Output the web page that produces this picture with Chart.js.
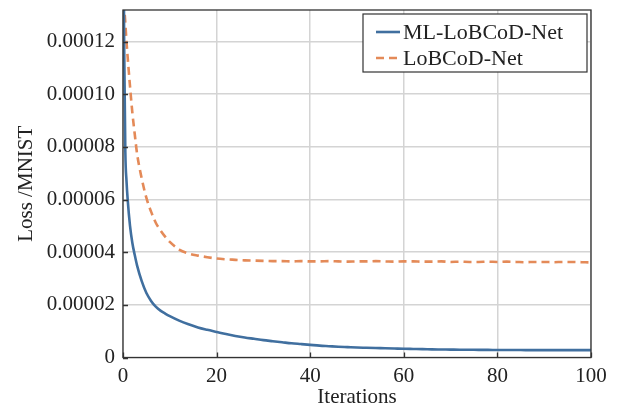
<!DOCTYPE html>
<html>
<head>
<meta charset="utf-8">
<script src="https://cdn.jsdelivr.net/npm/chart.js@4/dist/chart.umd.min.js"></script>
<style>
  html, body { margin: 0; padding: 0; background: #fff; }
  #wrap { width: 619px; height: 407px; }
</style>
</head>
<body>
<div id="wrap"><canvas id="lossChart" width="619" height="407"></canvas></div>
<script>
// iterations (denser near the start where the curves drop fast)
var iterations = [0, 0.25, 0.5, 0.75, 1, 1.5, 2, 2.5, 3, 4, 5, 6, 7, 8, 9, 10,
  12, 14, 16, 18, 20, 22, 24, 26, 28, 30, 32, 34, 36, 38, 40, 42, 44, 46, 48, 50,
  52, 54, 56, 58, 60, 62, 64, 66, 68, 70, 72, 74, 76, 78, 80, 82, 84, 86, 88, 90,
  92, 94, 96, 98, 100];

var mlLobcod = [210e-6, 118e-6, 78e-6, 67e-6, 60e-6, 50e-6, 43.5e-6, 39e-6, 35e-6, 29e-6, 24.5e-6, 21.5e-6, 19.3e-6, 17.8e-6, 16.7e-6, 15.7e-6,
  14.0e-6, 12.6e-6, 11.4e-6, 10.5e-6, 9.7e-6, 8.9e-6, 8.2e-6, 7.6e-6, 7.1e-6, 6.6e-6, 6.2e-6, 5.8e-6, 5.4e-6, 5.1e-6, 4.8e-6, 4.5e-6, 4.3e-6, 4.1e-6, 3.95e-6, 3.8e-6,
  3.7e-6, 3.6e-6, 3.5e-6, 3.4e-6, 3.3e-6, 3.25e-6, 3.2e-6, 3.1e-6, 3.05e-6, 3.0e-6, 2.95e-6, 2.95e-6, 2.9e-6, 2.9e-6, 2.85e-6, 2.85e-6, 2.85e-6, 2.8e-6, 2.8e-6, 2.8e-6,
  2.8e-6, 2.8e-6, 2.8e-6, 2.8e-6, 2.8e-6];

var lobcod = [145e-6, 134e-6, 127e-6, 120e-6, 114e-6, 103e-6, 93e-6, 85e-6, 77.5e-6, 68e-6, 60.6e-6, 55.4e-6, 51.2e-6, 48.3e-6, 45.9e-6, 43.9e-6,
  41.0e-6, 39.5e-6, 38.7e-6, 38.1e-6, 37.6e-6, 37.3e-6, 37.1e-6, 36.9e-6, 36.8e-6, 36.7e-6, 36.6e-6, 36.6e-6, 36.5e-6, 36.6e-6, 36.5e-6, 36.5e-6, 36.6e-6, 36.5e-6, 36.4e-6, 36.5e-6,
  36.5e-6, 36.6e-6, 36.5e-6, 36.4e-6, 36.5e-6, 36.5e-6, 36.4e-6, 36.4e-6, 36.5e-6, 36.3e-6, 36.4e-6, 36.3e-6, 36.3e-6, 36.4e-6, 36.3e-6, 36.4e-6, 36.3e-6, 36.2e-6, 36.3e-6, 36.3e-6,
  36.2e-6, 36.3e-6, 36.3e-6, 36.2e-6, 36.1e-6];

var xTicks = [0, 20, 40, 60, 80, 100];
var yTicks = [0, 0.00002, 0.00004, 0.00006, 0.00008, 0.00010, 0.00012];
var seriesNames = ['ML-LoBCoD-Net', 'LoBCoD-Net'];

var FONT = '"Liberation Serif", "Times New Roman", serif';
var INK = '#222';

function toPoints(xs, ys) {
  return xs.map(function (x, i) { return { x: x, y: ys[i] }; });
}

// frame, inward ticks and the boxed legend inside the plot
var framePlugin = {
  id: 'frame',
  afterDraw: function (chart) {
    var ctx = chart.ctx, a = chart.chartArea;
    var xs = chart.scales.x, ys = chart.scales.y;
    ctx.save();
    ctx.strokeStyle = '#333';
    ctx.lineWidth = 1.3;
    ctx.beginPath();
    yTicks.forEach(function (v) {
      var py = Math.round(ys.getPixelForValue(v)) + 0.5;
      ctx.moveTo(a.left, py); ctx.lineTo(a.left + 5, py);
    });
    xTicks.forEach(function (v) {
      var px = Math.round(xs.getPixelForValue(v)) + 0.5;
      ctx.moveTo(px, a.bottom); ctx.lineTo(px, a.bottom - 5);
    });
    ctx.stroke();
    ctx.strokeRect(a.left, a.top, a.right - a.left, a.bottom - a.top);

    // legend
    var bw = 224, bh = 58;
    var bx = a.right - bw - 4, by = a.top + 4;
    ctx.fillStyle = '#fff';
    ctx.fillRect(bx, by, bw, bh);
    ctx.strokeStyle = '#333';
    ctx.lineWidth = 1.2;
    ctx.strokeRect(bx, by, bw, bh);
    ctx.font = '22px ' + FONT;
    ctx.textBaseline = 'middle';
    ctx.fillStyle = INK;
    chart.data.datasets.forEach(function (ds, i) {
      var ly = by + 18 + i * 26;
      ctx.strokeStyle = ds.borderColor;
      ctx.lineWidth = ds.borderWidth;
      ctx.setLineDash(ds.borderDash || []);
      ctx.beginPath();
      ctx.moveTo(bx + 13, ly); ctx.lineTo(bx + 37, ly);
      ctx.stroke();
      ctx.setLineDash([]);
      ctx.fillText(ds.label, bx + 40, ly + 1);
    });
    ctx.restore();
  }
};

var lossChart = new Chart('lossChart', {
  type: 'line',
  data: {
    datasets: [{
      label: seriesNames[0],
      data: toPoints(iterations, mlLobcod),
      borderColor: '#406f9f',
      borderWidth: 2.6,
      pointRadius: 0,
      cubicInterpolationMode: 'monotone',
      fill: false
    }, {
      label: seriesNames[1],
      data: toPoints(iterations, lobcod),
      borderColor: '#e48a58',
      borderWidth: 2.6,
      borderDash: [8, 5],
      pointRadius: 0,
      cubicInterpolationMode: 'monotone',
      fill: false
    }]
  },
  options: {
    responsive: false,
    animation: false,
    layout: { padding: { top: 10, right: 28, left: 0, bottom: 0 } },
    plugins: {
      legend: { display: false },
      tooltip: { enabled: false }
    },
    scales: {
      x: {
        type: 'linear',
        min: 0,
        max: 100,
        afterBuildTicks: function (scale) {
          scale.ticks = xTicks.map(function (v) { return { value: v }; });
        },
        afterFit: function (scale) {
          scale.height = 49.5;
          scale.paddingLeft = 0;
          scale.paddingRight = 0;
        },
        grid: { color: '#d4d4d4', lineWidth: 1.5, drawTicks: false },
        border: { display: false },
        ticks: {
          padding: 6,
          maxRotation: 0,
          color: INK,
          font: { family: FONT, size: 21 }
        },
        title: {
          display: true,
          text: 'Iterations',
          color: INK,
          padding: { top: 0, bottom: -3 },
          font: { family: FONT, size: 21 }
        }
      },
      y: {
        min: 0,
        max: 0.000132,
        afterBuildTicks: function (scale) {
          scale.ticks = yTicks.map(function (v) { return { value: v }; });
        },
        afterFit: function (scale) {
          scale.width = 123;
          scale.paddingTop = 0;
          scale.paddingBottom = 0;
        },
        grid: { color: '#d4d4d4', lineWidth: 1.5, drawTicks: false },
        border: { display: false },
        ticks: {
          padding: 8,
          color: INK,
          font: { family: FONT, size: 21 },
          callback: function (v) { return v === 0 ? '0' : v.toFixed(5); }
        },
        title: {
          display: true,
          text: 'Loss /MNIST',
          color: INK,
          padding: { top: 14, bottom: 0 },
          font: { family: FONT, size: 21 }
        }
      }
    }
  },
  plugins: [framePlugin]
});
</script>
</body>
</html>
